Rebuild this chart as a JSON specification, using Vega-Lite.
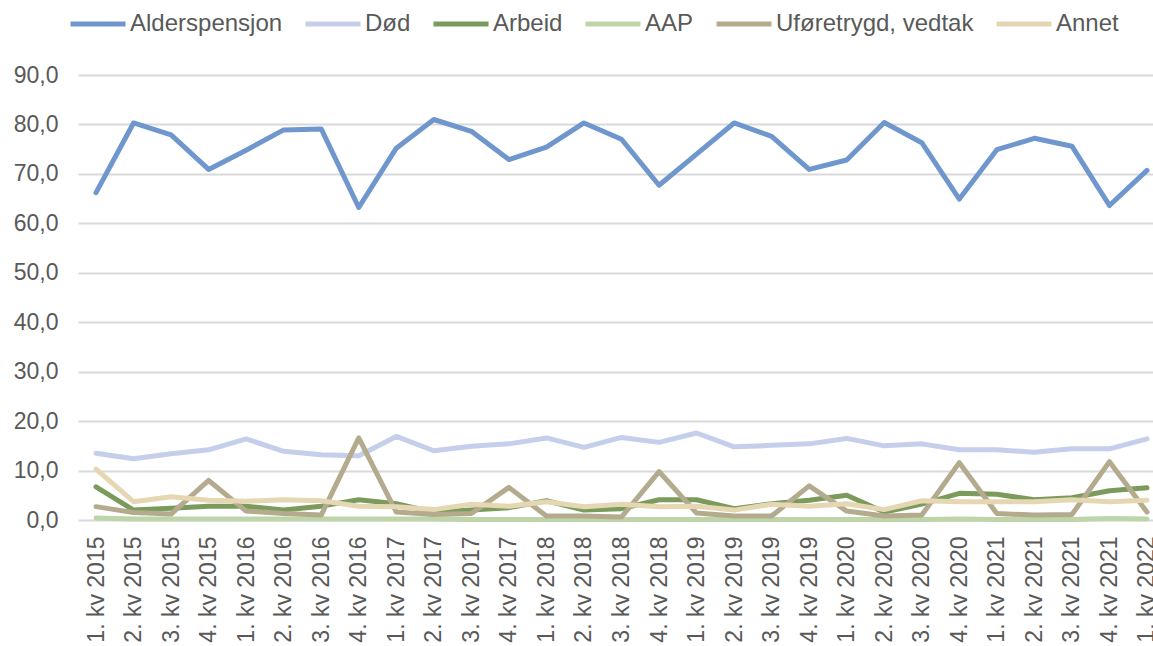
{
  "$schema": "https://vega.github.io/schema/vega-lite/v6.json",
  "width": 1075,
  "height": 445,
  "autosize": {"type": "none"},
  "padding": {"left": 78, "top": 75, "right": 0, "bottom": 126},
  "background": "white",
  "config": {"view": {"stroke": null}, "font": "Liberation Sans"},
  "data": {"values": [
    {"q":"1. kv 2015","s":"Alderspensjon","v":66.2},{"q":"2. kv 2015","s":"Alderspensjon","v":80.3},{"q":"3. kv 2015","s":"Alderspensjon","v":77.9},{"q":"4. kv 2015","s":"Alderspensjon","v":70.9},
    {"q":"1. kv 2016","s":"Alderspensjon","v":74.8},{"q":"2. kv 2016","s":"Alderspensjon","v":78.9},{"q":"3. kv 2016","s":"Alderspensjon","v":79.1},{"q":"4. kv 2016","s":"Alderspensjon","v":63.2},
    {"q":"1. kv 2017","s":"Alderspensjon","v":75.2},{"q":"2. kv 2017","s":"Alderspensjon","v":81.0},{"q":"3. kv 2017","s":"Alderspensjon","v":78.6},{"q":"4. kv 2017","s":"Alderspensjon","v":72.9},
    {"q":"1. kv 2018","s":"Alderspensjon","v":75.4},{"q":"2. kv 2018","s":"Alderspensjon","v":80.3},{"q":"3. kv 2018","s":"Alderspensjon","v":77.0},{"q":"4. kv 2018","s":"Alderspensjon","v":67.7},
    {"q":"1. kv 2019","s":"Alderspensjon","v":74.0},{"q":"2. kv 2019","s":"Alderspensjon","v":80.3},{"q":"3. kv 2019","s":"Alderspensjon","v":77.6},{"q":"4. kv 2019","s":"Alderspensjon","v":70.9},
    {"q":"1. kv 2020","s":"Alderspensjon","v":72.8},{"q":"2. kv 2020","s":"Alderspensjon","v":80.4},{"q":"3. kv 2020","s":"Alderspensjon","v":76.3},{"q":"4. kv 2020","s":"Alderspensjon","v":64.9},
    {"q":"1. kv 2021","s":"Alderspensjon","v":74.9},{"q":"2. kv 2021","s":"Alderspensjon","v":77.2},{"q":"3. kv 2021","s":"Alderspensjon","v":75.6},{"q":"4. kv 2021","s":"Alderspensjon","v":63.6},
    {"q":"1. kv 2022","s":"Alderspensjon","v":70.7},

    {"q":"1. kv 2015","s":"Død","v":13.5},{"q":"2. kv 2015","s":"Død","v":12.4},{"q":"3. kv 2015","s":"Død","v":13.4},{"q":"4. kv 2015","s":"Død","v":14.2},
    {"q":"1. kv 2016","s":"Død","v":16.4},{"q":"2. kv 2016","s":"Død","v":13.9},{"q":"3. kv 2016","s":"Død","v":13.2},{"q":"4. kv 2016","s":"Død","v":13.0},
    {"q":"1. kv 2017","s":"Død","v":16.9},{"q":"2. kv 2017","s":"Død","v":14.0},{"q":"3. kv 2017","s":"Død","v":14.9},{"q":"4. kv 2017","s":"Død","v":15.4},
    {"q":"1. kv 2018","s":"Død","v":16.6},{"q":"2. kv 2018","s":"Død","v":14.7},{"q":"3. kv 2018","s":"Død","v":16.7},{"q":"4. kv 2018","s":"Død","v":15.7},
    {"q":"1. kv 2019","s":"Død","v":17.6},{"q":"2. kv 2019","s":"Død","v":14.8},{"q":"3. kv 2019","s":"Død","v":15.1},{"q":"4. kv 2019","s":"Død","v":15.4},
    {"q":"1. kv 2020","s":"Død","v":16.5},{"q":"2. kv 2020","s":"Død","v":15.0},{"q":"3. kv 2020","s":"Død","v":15.4},{"q":"4. kv 2020","s":"Død","v":14.2},
    {"q":"1. kv 2021","s":"Død","v":14.2},{"q":"2. kv 2021","s":"Død","v":13.7},{"q":"3. kv 2021","s":"Død","v":14.4},{"q":"4. kv 2021","s":"Død","v":14.4},
    {"q":"1. kv 2022","s":"Død","v":16.4},

    {"q":"1. kv 2015","s":"Arbeid","v":6.7},{"q":"2. kv 2015","s":"Arbeid","v":2.0},{"q":"3. kv 2015","s":"Arbeid","v":2.4},{"q":"4. kv 2015","s":"Arbeid","v":2.8},
    {"q":"1. kv 2016","s":"Arbeid","v":2.8},{"q":"2. kv 2016","s":"Arbeid","v":2.0},{"q":"3. kv 2016","s":"Arbeid","v":2.8},{"q":"4. kv 2016","s":"Arbeid","v":4.1},
    {"q":"1. kv 2017","s":"Arbeid","v":3.3},{"q":"2. kv 2017","s":"Arbeid","v":1.6},{"q":"3. kv 2017","s":"Arbeid","v":2.0},{"q":"4. kv 2017","s":"Arbeid","v":2.5},
    {"q":"1. kv 2018","s":"Arbeid","v":3.9},{"q":"2. kv 2018","s":"Arbeid","v":2.0},{"q":"3. kv 2018","s":"Arbeid","v":2.3},{"q":"4. kv 2018","s":"Arbeid","v":4.1},
    {"q":"1. kv 2019","s":"Arbeid","v":4.1},{"q":"2. kv 2019","s":"Arbeid","v":2.3},{"q":"3. kv 2019","s":"Arbeid","v":3.3},{"q":"4. kv 2019","s":"Arbeid","v":4.0},
    {"q":"1. kv 2020","s":"Arbeid","v":5.0},{"q":"2. kv 2020","s":"Arbeid","v":1.6},{"q":"3. kv 2020","s":"Arbeid","v":3.2},{"q":"4. kv 2020","s":"Arbeid","v":5.4},
    {"q":"1. kv 2021","s":"Arbeid","v":5.2},{"q":"2. kv 2021","s":"Arbeid","v":4.1},{"q":"3. kv 2021","s":"Arbeid","v":4.5},{"q":"4. kv 2021","s":"Arbeid","v":5.9},
    {"q":"1. kv 2022","s":"Arbeid","v":6.5},

    {"q":"1. kv 2015","s":"AAP","v":0.4},{"q":"2. kv 2015","s":"AAP","v":0.2},{"q":"3. kv 2015","s":"AAP","v":0.2},{"q":"4. kv 2015","s":"AAP","v":0.2},
    {"q":"1. kv 2016","s":"AAP","v":0.2},{"q":"2. kv 2016","s":"AAP","v":0.2},{"q":"3. kv 2016","s":"AAP","v":0.2},{"q":"4. kv 2016","s":"AAP","v":0.2},
    {"q":"1. kv 2017","s":"AAP","v":0.2},{"q":"2. kv 2017","s":"AAP","v":0.2},{"q":"3. kv 2017","s":"AAP","v":0.1},{"q":"4. kv 2017","s":"AAP","v":0.1},
    {"q":"1. kv 2018","s":"AAP","v":0.1},{"q":"2. kv 2018","s":"AAP","v":0.1},{"q":"3. kv 2018","s":"AAP","v":0.1},{"q":"4. kv 2018","s":"AAP","v":0.1},
    {"q":"1. kv 2019","s":"AAP","v":0.1},{"q":"2. kv 2019","s":"AAP","v":0.1},{"q":"3. kv 2019","s":"AAP","v":0.1},{"q":"4. kv 2019","s":"AAP","v":0.1},
    {"q":"1. kv 2020","s":"AAP","v":0.1},{"q":"2. kv 2020","s":"AAP","v":0.1},{"q":"3. kv 2020","s":"AAP","v":0.1},{"q":"4. kv 2020","s":"AAP","v":0.2},
    {"q":"1. kv 2021","s":"AAP","v":0.1},{"q":"2. kv 2021","s":"AAP","v":0.1},{"q":"3. kv 2021","s":"AAP","v":0.1},{"q":"4. kv 2021","s":"AAP","v":0.3},
    {"q":"1. kv 2022","s":"AAP","v":0.2},

    {"q":"1. kv 2015","s":"Uføretrygd, vedtak","v":2.7},{"q":"2. kv 2015","s":"Uføretrygd, vedtak","v":1.5},{"q":"3. kv 2015","s":"Uføretrygd, vedtak","v":1.2},{"q":"4. kv 2015","s":"Uføretrygd, vedtak","v":8.0},
    {"q":"1. kv 2016","s":"Uføretrygd, vedtak","v":1.8},{"q":"2. kv 2016","s":"Uføretrygd, vedtak","v":1.3},{"q":"3. kv 2016","s":"Uføretrygd, vedtak","v":1.0},{"q":"4. kv 2016","s":"Uføretrygd, vedtak","v":16.6},
    {"q":"1. kv 2017","s":"Uføretrygd, vedtak","v":1.6},{"q":"2. kv 2017","s":"Uføretrygd, vedtak","v":1.1},{"q":"3. kv 2017","s":"Uføretrygd, vedtak","v":1.3},{"q":"4. kv 2017","s":"Uføretrygd, vedtak","v":6.6},
    {"q":"1. kv 2018","s":"Uføretrygd, vedtak","v":0.8},{"q":"2. kv 2018","s":"Uføretrygd, vedtak","v":0.8},{"q":"3. kv 2018","s":"Uføretrygd, vedtak","v":0.6},{"q":"4. kv 2018","s":"Uføretrygd, vedtak","v":9.8},
    {"q":"1. kv 2019","s":"Uføretrygd, vedtak","v":1.4},{"q":"2. kv 2019","s":"Uføretrygd, vedtak","v":0.8},{"q":"3. kv 2019","s":"Uføretrygd, vedtak","v":0.8},{"q":"4. kv 2019","s":"Uføretrygd, vedtak","v":6.9},
    {"q":"1. kv 2020","s":"Uføretrygd, vedtak","v":1.8},{"q":"2. kv 2020","s":"Uføretrygd, vedtak","v":0.8},{"q":"3. kv 2020","s":"Uføretrygd, vedtak","v":1.0},{"q":"4. kv 2020","s":"Uføretrygd, vedtak","v":11.6},
    {"q":"1. kv 2021","s":"Uføretrygd, vedtak","v":1.3},{"q":"2. kv 2021","s":"Uføretrygd, vedtak","v":1.0},{"q":"3. kv 2021","s":"Uføretrygd, vedtak","v":1.1},{"q":"4. kv 2021","s":"Uføretrygd, vedtak","v":11.8},
    {"q":"1. kv 2022","s":"Uføretrygd, vedtak","v":1.6},

    {"q":"1. kv 2015","s":"Annet","v":10.3},{"q":"2. kv 2015","s":"Annet","v":3.7},{"q":"3. kv 2015","s":"Annet","v":4.7},{"q":"4. kv 2015","s":"Annet","v":4.0},
    {"q":"1. kv 2016","s":"Annet","v":3.8},{"q":"2. kv 2016","s":"Annet","v":4.1},{"q":"3. kv 2016","s":"Annet","v":3.9},{"q":"4. kv 2016","s":"Annet","v":2.8},
    {"q":"1. kv 2017","s":"Annet","v":2.7},{"q":"2. kv 2017","s":"Annet","v":2.1},{"q":"3. kv 2017","s":"Annet","v":3.2},{"q":"4. kv 2017","s":"Annet","v":2.8},
    {"q":"1. kv 2018","s":"Annet","v":3.7},{"q":"2. kv 2018","s":"Annet","v":2.7},{"q":"3. kv 2018","s":"Annet","v":3.2},{"q":"4. kv 2018","s":"Annet","v":2.7},
    {"q":"1. kv 2019","s":"Annet","v":2.8},{"q":"2. kv 2019","s":"Annet","v":2.0},{"q":"3. kv 2019","s":"Annet","v":3.2},{"q":"4. kv 2019","s":"Annet","v":2.8},
    {"q":"1. kv 2020","s":"Annet","v":3.3},{"q":"2. kv 2020","s":"Annet","v":2.1},{"q":"3. kv 2020","s":"Annet","v":3.9},{"q":"4. kv 2020","s":"Annet","v":3.7},
    {"q":"1. kv 2021","s":"Annet","v":3.7},{"q":"2. kv 2021","s":"Annet","v":3.7},{"q":"3. kv 2021","s":"Annet","v":4.1},{"q":"4. kv 2021","s":"Annet","v":3.7},
    {"q":"1. kv 2022","s":"Annet","v":4.0}
  ]},
  "mark": {"type": "line", "strokeWidth": 5, "strokeCap": "round", "strokeJoin": "round"},
  "encoding": {
    "x": {
      "field": "q", "type": "ordinal", "sort": null, "title": null,
      "scale": {"type": "point", "padding": 0.32, "align": 0.75},
      "axis": {"labelAngle": -90, "labelFontSize": 23, "labelColor": "#595959", "labelFont": "Liberation Sans", "ticks": false, "domain": false, "grid": false, "labelPadding": 16, "labelOverlap": false}
    },
    "y": {
      "field": "v", "type": "quantitative", "title": null,
      "scale": {"domain": [0, 90], "nice": false},
      "axis": {"values": [0,10,20,30,40,50,60,70,80,90], "labelExpr": "replace(format(datum.value, '.1f'), '.', ',')", "labelFontSize": 23, "labelColor": "#595959", "labelFont": "Liberation Sans", "ticks": false, "domain": false, "grid": true, "gridColor": "#d9d9d9", "gridWidth": 2, "labelPadding": 20}
    },
    "color": {
      "field": "s", "type": "nominal", "title": null,
      "scale": {
        "domain": ["Alderspensjon", "Død", "Arbeid", "AAP", "Uføretrygd, vedtak", "Annet"],
        "range": ["#6F97CD", "#C5CEEB", "#7A9B5C", "#BDD5A8", "#B4AB8E", "#E6D7B3"]
      },
      "legend": {
        "orient": "none", "direction": "horizontal", "legendX": -10, "legendY": -81, "padding": 0,
        "symbolType": "stroke", "symbolSize": 3025, "symbolStrokeWidth": 5,
        "labelFontSize": 24, "labelColor": "#595959", "labelFont": "Liberation Sans",
        "labelOffset": 2, "columnPadding": 12, "labelLimit": 400
      }
    }
  }
}
